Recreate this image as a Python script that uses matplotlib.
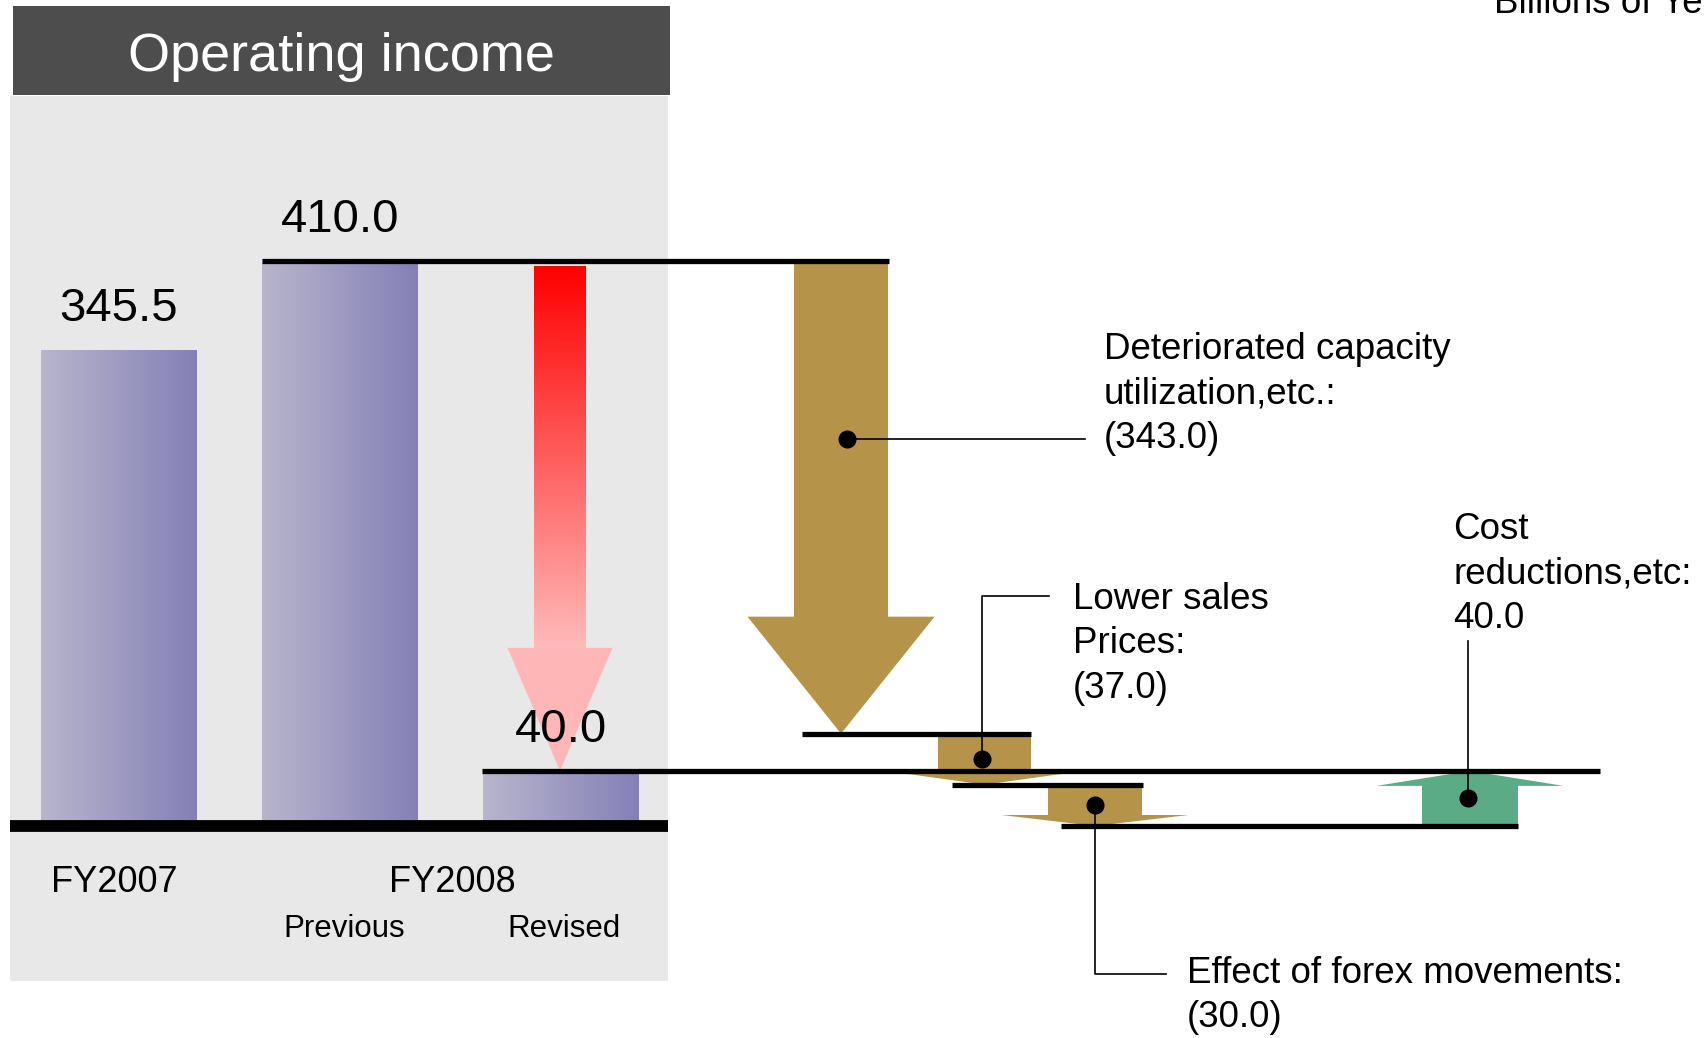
import numpy as np
import matplotlib
matplotlib.use('Agg')
from matplotlib import pyplot as plt
from matplotlib.patches import Polygon, Rectangle

plt.rcParams['font.family'] = ['Liberation Sans', 'DejaVu Sans']

# operating income, billions of yen
bar_values = [345.5, 410.0, 40.0]
period_labels = ['FY2007', 'FY2008']
forecast_labels = ['Previous', 'Revised']

step_names = ['Deteriorated capacity\nutilization,etc.:',
              'Lower sales\nPrices:',
              'Effect of forex movements:',
              'Cost\nreductions,etc:']
step_values = [-343.0, -37.0, -30.0, 40.0]

GOLD = '#b5944a'
GREEN = '#5bab87'
Y0 = 826.0                 # pixel row of zero
K = (Y0 - 261.0) / 410.0   # pixels per billion yen


def ypx(p):
    # pixel row -> data units
    return (Y0 - p) / K


def fmt(v):
    return '(%.1f)' % abs(v) if v < 0 else '%.1f' % v


def arrow_poly(xc, shaft_hw, head_hw, y_start, y_end, head_px):
    d = np.sign(y_end - y_start)
    yb = y_end - d * head_px / K
    pts = [(xc - shaft_hw, y_start), (xc - shaft_hw, yb), (xc - head_hw, yb),
           (xc, y_end), (xc + head_hw, yb), (xc + shaft_hw, yb),
           (xc + shaft_hw, y_start)]
    return pts


fig = plt.figure(figsize=(17.04, 10.38), dpi=100)
ax = fig.add_axes([0, 0, 1, 1])
ax.set_xlim(0, 1704)
ax.set_ylim(ypx(1038), ypx(0))
ax.axis('off')

# left panel and title bar
ax.add_patch(Rectangle((10, ypx(981)), 658, ypx(96) - ypx(981),
                       facecolor='#e8e8e8', edgecolor='none', zorder=0))
ax.add_patch(Rectangle((13, ypx(95)), 657, ypx(6) - ypx(95),
                       facecolor='#4d4d4d', edgecolor='none', zorder=0))
ax.text(341, ypx(57), 'Operating income', color='white', fontsize=39,
        ha='center', va='center')
ax.text(1494, ypx(13), 'Billions of Yen', fontsize=26.5, ha='left',
        va='baseline')

# bars with horizontal gradient
bar_x = [119, 340, 560.5]
bar_w = 156
bars = ax.bar(bar_x, bar_values, width=bar_w, color='none', zorder=2)
grad = np.linspace(0, 1, 256)
c_left = np.array([184, 181, 205]) / 255
c_right = np.array([132, 128, 182]) / 255
grad_img = (c_left[None, :] * (1 - grad[:, None]) + c_right[None, :] * grad[:, None])[None, :, :]
for b, v in zip(bars, bar_values):
    x0 = b.get_x()
    im = ax.imshow(grad_img, extent=(x0, x0 + bar_w, 0, v), aspect='auto',
                   zorder=2, interpolation='bilinear')
    im.set_clip_path(b)
    ax.text(x0 + bar_w / 2, v + 41 / K, '%.1f' % v, fontsize=34,
            ha='center', va='center', zorder=5)

ax.hlines(0, 10, 668, color='black', lw=8.5, zorder=4)

# waterfall levels
levels = np.cumsum([bar_values[1]] + step_values)

# red arrow from previous to revised forecast
rx, r_head = 560, 123
r_top = bar_values[1] - 5 / K
r_base = bar_values[2] + r_head / K
red_img = np.zeros((256, 1, 3))
t = np.linspace(0, 1, 256)[:, None]
red_img[:, 0, :] = np.array([1.0, 0.0, 0.0]) * (1 - t) + np.array([1.0, 0.73, 0.73]) * t
ax.imshow(red_img, extent=(rx - 26, rx + 26, r_base, r_top), aspect='auto',
          zorder=3, interpolation='bilinear')
ax.add_patch(Polygon([(rx - 52.5, r_base), (rx, bar_values[2]), (rx + 52.5, r_base)],
                     closed=True, facecolor='#ffb6b6', edgecolor='none', zorder=3))

# step arrows
arrow_x = [841, 984.5, 1095, 1470]
head_px = [117, 13, 11, 15]
shaft_hw = [47, 46.5, 47, 48]
for i, v in enumerate(step_values):
    start = levels[i] - (3 / K if i == 0 else 0)
    pts = arrow_poly(arrow_x[i], shaft_hw[i], 93.5, start, levels[i + 1], head_px[i])
    ax.add_patch(Polygon(pts, closed=True, facecolor=GOLD if v < 0 else GREEN,
                         edgecolor='none', zorder=3))

# step lines
lw = 3.8
ax.hlines(levels[0], 262, 889, color='black', lw=lw, zorder=4)
ax.hlines(levels[1], 802, 1031, color='black', lw=lw, zorder=4)
ax.hlines(levels[2], 952, 1143, color='black', lw=lw, zorder=4)
ax.hlines(levels[3], 1061, 1518, color='black', lw=lw, zorder=4)
ax.hlines(levels[4], 482, 1600, color='black', lw=lw, zorder=4)

# leaders and labels
dots = [(847, ypx(439)),
        (982, (levels[1] + levels[2]) / 2),
        (1095, (levels[2] + levels[3]) / 2),
        (1468, (levels[3] + levels[4]) / 2)]
leaders = [[dots[0], (1085, dots[0][1])],
           [dots[1], (982, ypx(596)), (1049, ypx(596))],
           [dots[2], (1095, ypx(974)), (1166, ypx(974))],
           [dots[3], (1468, ypx(641))]]
label_pos = [(1104, 332), (1073, 582), (1187, 956), (1453, 512)]
for i in range(4):
    xs, ys = zip(*leaders[i])
    ax.plot(xs, ys, color='black', lw=1.2, zorder=5)
    ax.plot(*dots[i], 'o', color='black', ms=12, zorder=6)
    lx, ly = label_pos[i]
    ax.text(lx, ypx(ly), step_names[i] + '\n' + fmt(step_values[i]),
            fontsize=26.5, ha='left', va='top', linespacing=1.35, zorder=5)

# period labels
ax.text(114, ypx(883), period_labels[0], fontsize=26, ha='center', va='center')
ax.text(452, ypx(883), period_labels[1], fontsize=26, ha='center', va='center')
ax.text(344, ypx(929), forecast_labels[0], fontsize=22.5, ha='center', va='center')
ax.text(564, ypx(929), forecast_labels[1], fontsize=22.5, ha='center', va='center')

fig.savefig('out.png', dpi=100)
